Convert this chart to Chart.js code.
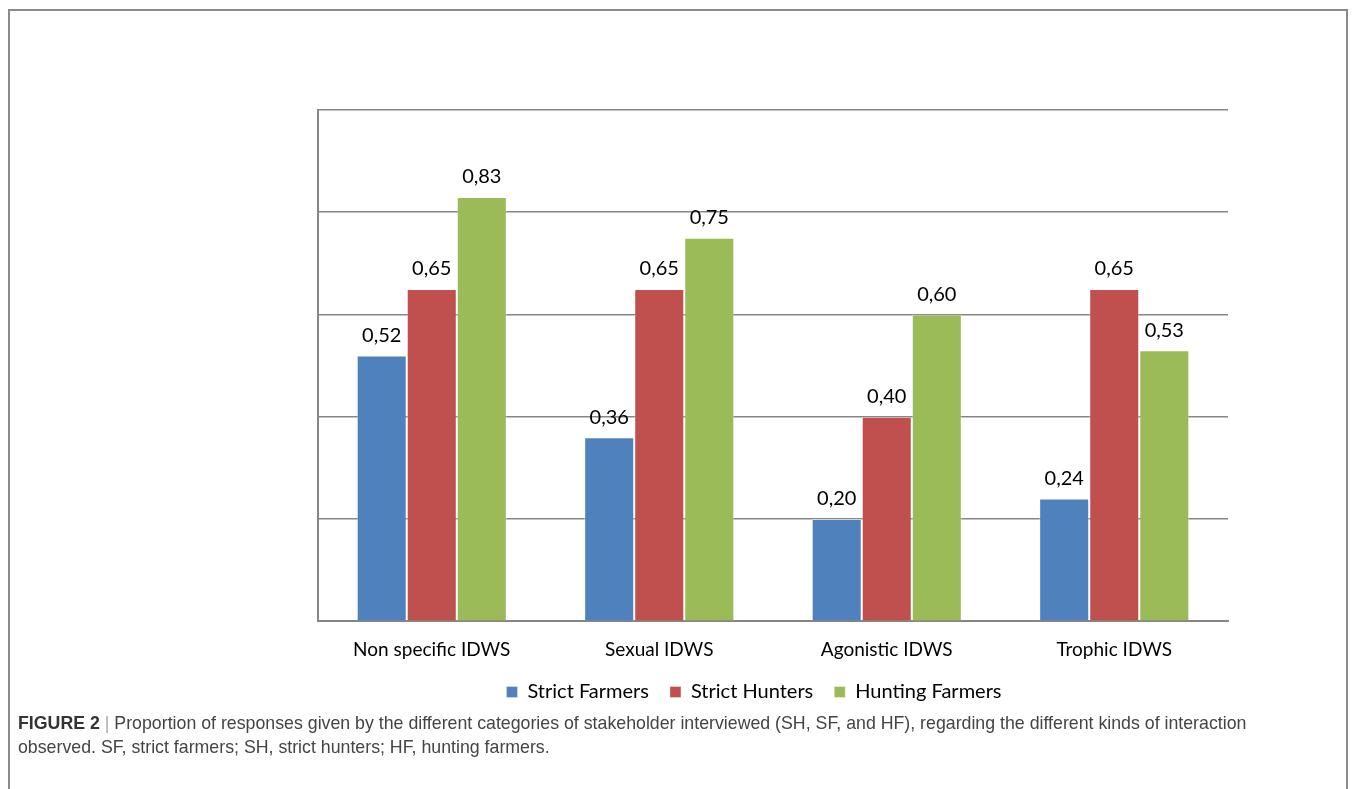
<!DOCTYPE html>
<html>
<head>
<meta charset="utf-8">
<script src="https://cdn.jsdelivr.net/npm/chart.js@4.4.0/dist/chart.umd.min.js"></script>
<style>
  html, body { margin: 0; padding: 0; background: #fff; }
  body { width: 1356px; height: 789px; position: relative; overflow: hidden; }
  #frame {
    position: absolute; left: 8px; top: 9px; width: 1340px; height: 800px;
    border: 2px solid #8a8a8a; box-sizing: border-box;
  }
  #wrap { position: absolute; left: 0; top: 0; width: 1356px; height: 789px; }
  #caption {
    position: absolute; left: 18px; top: 711px; width: 1320px;
    font-family: "Liberation Sans", sans-serif;
    font-size: 17.75px; line-height: 24px; color: #444; white-space: nowrap;
  }
  #caption b { color: #333; }
  #caption .bar { color: #aaa; }
</style>
</head>
<body>
<div id="frame"></div>
<div id="wrap"><canvas id="chart"></canvas></div>
<div id="caption"><b>FIGURE 2</b> <span class="bar">|</span> Proportion of responses given by the different categories of stakeholder interviewed (SH, SF, and HF), regarding the different kinds of interaction<br>observed. SF, strict farmers; SH, strict hunters; HF, hunting farmers.</div>
<script>
const categories = ["Non specific IDWS", "Sexual IDWS", "Agonistic IDWS", "Trophic IDWS"];
const strictFarmers = [0.52, 0.36, 0.20, 0.24];
const strictHunters = [0.65, 0.65, 0.40, 0.65];
const huntingFarmers = [0.83, 0.75, 0.60, 0.53];

const labelFont = "Lato";

// value labels above each bar, "0,52" style
const valueLabels = {
  id: "valueLabels",
  afterDatasetsDraw(chart) {
    const { ctx } = chart;
    ctx.save();
    ctx.fillStyle = "#000";
    ctx.textAlign = "center";
    ctx.textBaseline = "middle";
    ctx.font = `20px ${labelFont}`;
    chart.data.datasets.forEach((ds, i) => {
      const meta = chart.getDatasetMeta(i);
      meta.data.forEach((bar, j) => {
        const txt = ds.data[j].toFixed(2).replace(".", ",");
        ctx.fillText(txt, bar.x, bar.y - 20);
      });
    });
    ctx.restore();
  },
};

// legend padding is used both ways; draw the legend row a bit higher and left
// so it sits where the original one is
const legendShift = { x: -19, y: -9 };
const legendSpacing = {
  id: "legendSpacing",
  afterInit(chart) {
    const legend = chart.legend;
    if (!legend) return;
    const draw = legend.draw;
    legend.draw = function () {
      this.top += legendShift.y;
      this.left += legendShift.x;
      this.right += legendShift.x;
      draw.call(this);
      this.top -= legendShift.y;
      this.left -= legendShift.x;
      this.right -= legendShift.x;
    };
  },
};

const barDataset = (label, data, color) => ({
  label,
  data,
  backgroundColor: color,
  borderColor: "rgba(255,255,255,0.35)",
  borderWidth: 1,
});

new Chart(document.getElementById("chart"), {
  type: "bar",
  data: {
    labels: categories,
    datasets: [
      barDataset("Strict Farmers", strictFarmers, "#4F81BD"),
      barDataset("Strict Hunters", strictHunters, "#C0504D"),
      barDataset("Hunting Farmers", huntingFarmers, "#9BBB59"),
    ],
  },
  options: {
    responsive: true,
    maintainAspectRatio: false,
    animation: false,
    layout: { padding: { left: 318, right: 128, top: 110, bottom: 68 } },
    datasets: { bar: { barPercentage: 1, categoryPercentage: 0.66 } },
    plugins: {
      tooltip: { enabled: false },
      legend: {
        position: "bottom",
        labels: {
          boxWidth: 11,
          boxHeight: 11,
          padding: 21,
          color: "#000",
          font: { family: labelFont, size: 20 },
        },
      },
    },
    scales: {
      x: {
        grid: { display: false },
        border: { color: "#868686", width: 2 },
        ticks: { color: "#000", padding: 9, font: { family: labelFont, size: 19 } },
      },
      y: {
        min: 0,
        max: 1,
        ticks: { stepSize: 0.2, display: false },
        grid: { color: "#868686", lineWidth: 1.5, drawTicks: false },
        border: { color: "#868686", width: 2 },
      },
    },
  },
  plugins: [valueLabels, legendSpacing],
});
</script>
</body>
</html>
